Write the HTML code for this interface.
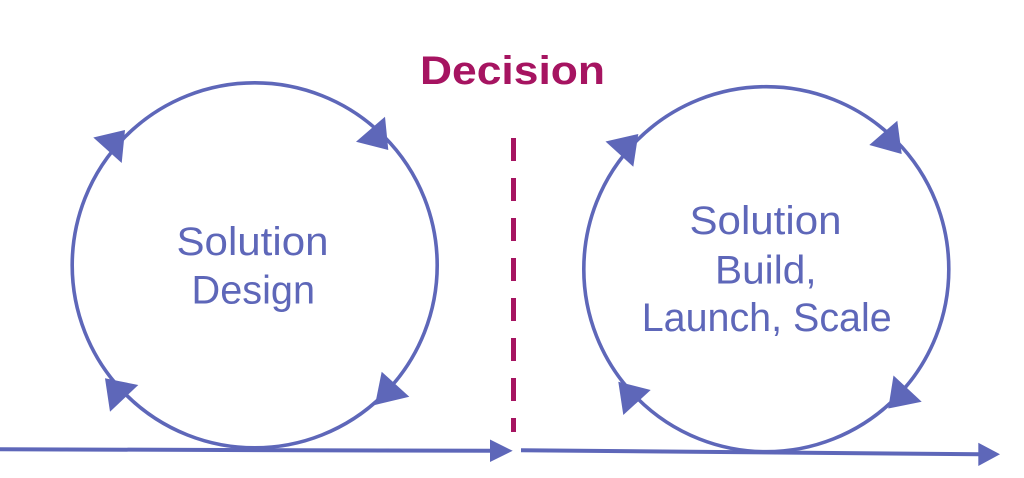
<!DOCTYPE html>
<html>
<head>
<meta charset="utf-8">
<style>
  html, body { margin: 0; padding: 0; background: #ffffff; }
  body { width: 1024px; height: 478px; overflow: hidden; }
  svg { display: block; }
</style>
</head>
<body>
<svg width="1024" height="478" viewBox="0 0 1024 478" xmlns="http://www.w3.org/2000/svg">
  <!-- Decision title -->
  <text x="420" y="84" font-family="Liberation Sans, sans-serif" font-weight="bold" font-size="40" fill="#a61461" textLength="185" lengthAdjust="spacingAndGlyphs">Decision</text>

  <!-- Dashed decision line -->
  <line x1="513.5" y1="138" x2="513.5" y2="432" stroke="#a61461" stroke-width="5" stroke-dasharray="23 17"/>

  <!-- Left circle -->
  <circle cx="254.7" cy="265.3" r="182.5" fill="none" stroke="#5e67b9" stroke-width="3.6"/>
  <polygon points="93.3,137.5 125,130 121.7,163" fill="#5e67b9"/>
  <polygon points="388.3,150 385,116.7 356,141.7" fill="#5e67b9"/>
  <polygon points="375,405 381.7,371.7 409.3,396.7" fill="#5e67b9"/>
  <polygon points="105,378.3 138.3,385 110,411.7" fill="#5e67b9"/>

  <!-- Right circle -->
  <circle cx="766.3" cy="269.2" r="182.5" fill="none" stroke="#5e67b9" stroke-width="3.6"/>
  <polygon points="605.5,141.5 638.3,134 633.3,166.7" fill="#5e67b9"/>
  <polygon points="901.7,154 897.3,120.7 869.3,145" fill="#5e67b9"/>
  <polygon points="888.3,408.5 893.5,375.5 921.7,401.7" fill="#5e67b9"/>
  <polygon points="618.3,381.7 650.7,390 623.3,415" fill="#5e67b9"/>

  <!-- Bottom lines -->
  <line x1="0" y1="449.3" x2="492" y2="450.8" stroke="#5e67b9" stroke-width="4"/>
  <polygon points="512.7,450.8 490,439.5 490,462" fill="#5e67b9"/>
  <line x1="521" y1="450.2" x2="980" y2="454.3" stroke="#5e67b9" stroke-width="4"/>
  <polygon points="1000,454.3 978.3,442.7 978.3,466" fill="#5e67b9"/>

  <!-- Left label -->
  <g font-family="Liberation Sans, sans-serif" font-size="40" fill="#5e67b9" text-anchor="middle">
    <text x="252.5" y="255" textLength="152" lengthAdjust="spacingAndGlyphs">Solution</text>
    <text x="253.3" y="303.3" textLength="123.5" lengthAdjust="spacingAndGlyphs">Design</text>
  </g>

  <!-- Right label -->
  <g font-family="Liberation Sans, sans-serif" font-size="40" fill="#5e67b9" text-anchor="middle">
    <text x="765.5" y="234" textLength="152" lengthAdjust="spacingAndGlyphs">Solution</text>
    <text x="765.8" y="283.3" textLength="101.5" lengthAdjust="spacingAndGlyphs">Build,</text>
    <text x="766.7" y="331" textLength="250" lengthAdjust="spacingAndGlyphs">Launch, Scale</text>
  </g>
</svg>
</body>
</html>
